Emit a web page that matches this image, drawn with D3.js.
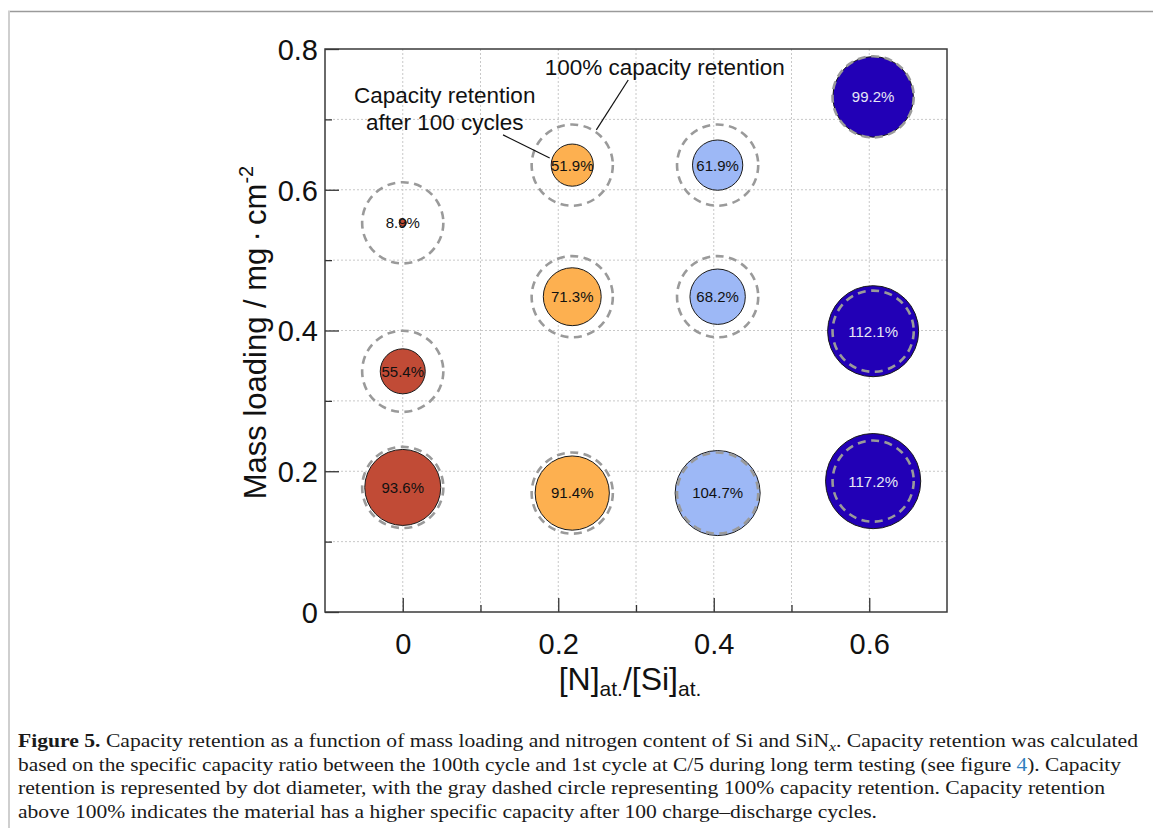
<!DOCTYPE html>
<html>
<head>
<meta charset="utf-8">
<script src="https://cdn.jsdelivr.net/npm/d3@7"></script>
<style>
  body { margin: 0; background: #fff; }
  svg { display: block; }
</style>
</head>
<body>
<div id="chart"></div>
<script>
const W = 1153, H = 828;
const margin = { left: 325, top: 49, right: 206, bottom: 216 };
const width = W - margin.left - margin.right;
const height = H - margin.top - margin.bottom;

// data
const nitrogen = [0, 0, 0, 0.218, 0.218, 0.218, 0.405, 0.405, 0.405, 0.605, 0.605, 0.605];
const loading = [0.553, 0.342, 0.177, 0.635, 0.448, 0.169, 0.635, 0.448, 0.169, 0.732, 0.399, 0.186];
const retention = [8.9, 55.4, 93.6, 51.9, 71.3, 91.4, 61.9, 68.2, 104.7, 99.2, 112.1, 117.2];
const groups = [0, 0.218, 0.405, 0.605];
const groupColors = ['#c14b36', '#fdb050', '#9db8f6', '#2200b6'];
const labelColors = ['#111', '#111', '#111', '#e6e6f5'];

const xMajor = [0, 0.2, 0.4, 0.6];
const xMinor = [0.1, 0.3, 0.5];
const yMajor = [0, 0.2, 0.4, 0.6, 0.8];
const yMinor = [0.1, 0.3, 0.5, 0.7];
const xGrid = [0, 0.1, 0.2, 0.3, 0.4, 0.5, 0.6];
const yGrid = [0.1, 0.2, 0.3, 0.4, 0.5, 0.6, 0.7];

const captionLines = [
  [{ t: 'Figure 5.', b: true }, { t: ' Capacity retention as a function of mass loading and nitrogen content of Si and SiN' }, { t: 'x', sub: true }, { t: '. Capacity retention was calculated' }],
  [{ t: 'based on the specific capacity ratio between the 100th cycle and 1st cycle at C/5 during long term testing (see figure ' }, { t: '4', link: true }, { t: '). Capacity' }],
  [{ t: 'retention is represented by dot diameter, with the gray dashed circle representing 100% capacity retention. Capacity retention' }],
  [{ t: 'above 100% indicates the material has a higher specific capacity after 100 charge\u2013discharge cycles.' }]
];
const captionWidths = [1120, 1103, 1087, 859];

const points = nitrogen.map((n, i) => ({ n, m: loading[i], r: retention[i] }));

const x = d3.scaleLinear().domain([-0.1, 0.7]).range([0, width]);
const y = d3.scaleLinear().domain([0, 0.8]).range([height, 0]);
const rad = d3.scaleLinear().domain([0, 100]).range([0, 40.6]);
const color = d3.scaleOrdinal().domain(groups).range(groupColors);
const labelColor = d3.scaleOrdinal().domain(groups).range(labelColors);

const root = d3.select('#chart').append('svg')
  .attr('width', W).attr('height', H);

// page frame
root.append('line').attr('x1', 8).attr('x2', W).attr('y1', 11.5).attr('y2', 11.5)
  .attr('stroke', '#9a9a9a').attr('stroke-width', 1.5);
root.append('line').attr('x1', 9).attr('x2', 9).attr('y1', 11).attr('y2', H)
  .attr('stroke', '#cfcfcf').attr('stroke-width', 2);

const svg = root.append('g')
  .attr('transform', `translate(${margin.left},${margin.top})`);

// grid
svg.append('g').selectAll('line').data(xGrid).join('line')
  .attr('x1', d => x(d)).attr('x2', d => x(d)).attr('y1', 0).attr('y2', height)
  .attr('stroke', '#c8c8c8').attr('stroke-dasharray', '2,2');
svg.append('g').selectAll('line').data(yGrid).join('line')
  .attr('y1', d => y(d)).attr('y2', d => y(d)).attr('x1', 0).attr('x2', width)
  .attr('stroke', '#c8c8c8').attr('stroke-dasharray', '2,2');

// axes (ticks inside)
const fontAxis = 'Liberation Sans, Arial, sans-serif';
const xAx = svg.append('g').attr('transform', `translate(0,${height})`)
  .call(d3.axisBottom(x).tickValues(xMajor).tickSize(-14).tickPadding(21).tickFormat(d3.format('~g')));
svg.append('g').attr('transform', `translate(0,${height})`)
  .call(d3.axisBottom(x).tickValues(xMinor).tickSize(-7).tickFormat(''));
const yAx = svg.append('g')
  .call(d3.axisLeft(y).tickValues(yMajor).tickSize(-14).tickPadding(7).tickFormat(d3.format('~g')));
svg.append('g')
  .call(d3.axisLeft(y).tickValues(yMinor).tickSize(-7).tickFormat(''));
svg.selectAll('.domain').remove();
svg.selectAll('.tick line').attr('stroke', '#333').attr('stroke-width', 1.3);
svg.selectAll('.tick text').attr('font-family', fontAxis).attr('font-size', 29).attr('fill', '#111');
xAx.selectAll('.tick text').attr('dy', '0.71em');
yAx.selectAll('.tick text').attr('dy', '0.36em');

svg.append('rect').attr('width', width).attr('height', height)
  .attr('fill', 'none').attr('stroke', '#3a3a3a').attr('stroke-width', 1.5);

// bubbles
svg.append('g').selectAll('circle').data(points).join('circle')
  .attr('cx', d => x(d.n)).attr('cy', d => y(d.m))
  .attr('r', d => rad(d.r))
  .attr('fill', d => color(d.n))
  .attr('stroke', '#1a1a1a').attr('stroke-width', 1);

// 100% retention reference
svg.append('g').selectAll('circle').data(points).join('circle')
  .attr('cx', d => x(d.n)).attr('cy', d => y(d.m))
  .attr('r', rad(100))
  .attr('fill', 'none')
  .attr('stroke', '#9a9a9a').attr('stroke-width', 2.6)
  .attr('stroke-dasharray', '8,5.5');

svg.append('g').selectAll('text').data(points).join('text')
  .attr('x', d => x(d.n)).attr('y', d => y(d.m))
  .attr('dy', '0.36em')
  .attr('text-anchor', 'middle')
  .attr('font-family', fontAxis).attr('font-size', 15)
  .attr('fill', d => labelColor(d.n))
  .text(d => d.r.toFixed(1) + '%');

// annotations
const note = svg.append('g').attr('font-family', fontAxis).attr('font-size', 22.5).attr('fill', '#111');
note.append('text').attr('x', x(0.337)).attr('y', y(0.763)).attr('text-anchor', 'middle')
  .text('100% capacity retention');
note.append('text').attr('x', x(0.054)).attr('y', y(0.723)).attr('text-anchor', 'middle')
  .text('Capacity retention');
note.append('text').attr('x', x(0.054)).attr('y', y(0.685)).attr('text-anchor', 'middle')
  .text('after 100 cycles');
note.append('line').attr('x1', x(0.290)).attr('y1', y(0.756)).attr('x2', x(0.249)).attr('y2', y(0.685))
  .attr('stroke', '#111').attr('stroke-width', 1.2);
note.append('line').attr('x1', x(0.129)).attr('y1', y(0.678)).attr('x2', x(0.189)).attr('y2', y(0.645))
  .attr('stroke', '#111').attr('stroke-width', 1.2);

// axis titles
const xt = svg.append('text').attr('x', width / 2 - 6).attr('y', height + 78)
  .attr('text-anchor', 'middle').attr('font-family', fontAxis).attr('font-size', 32).attr('fill', '#111');
xt.append('tspan').text('[N]');
xt.append('tspan').attr('font-size', 21).attr('dy', 6).text('at.');
xt.append('tspan').attr('dy', -6).text('/[Si]');
xt.append('tspan').attr('font-size', 21).attr('dy', 6).text('at.');

const yt = svg.append('text')
  .attr('transform', `translate(${-59},${height / 2 + 2}) rotate(-90)`)
  .attr('text-anchor', 'middle').attr('font-family', fontAxis).attr('font-size', 31).attr('fill', '#111');
yt.append('tspan').text('Mass loading / mg\u2009\u00b7\u2009cm');
yt.append('tspan').attr('font-size', 20).attr('dy', -13).text('-2');

// caption
const cap = root.append('g').attr('font-family', 'Liberation Serif, Times New Roman, serif')
  .attr('font-size', 18).attr('fill', '#1a1a1a');
captionLines.forEach((segs, i) => {
  const tx = cap.append('text').attr('x', 18).attr('y', 747 + i * 23.5)
    .attr('textLength', captionWidths[i]).attr('lengthAdjust', 'spacingAndGlyphs');
  segs.forEach(s => {
    const ts = tx.append('tspan').text(s.t);
    if (s.b) ts.attr('font-weight', 'bold');
    if (s.link) ts.attr('fill', '#2f7fc0');
    if (s.sub) ts.attr('font-style', 'italic').attr('font-size', 13).attr('dy', 4);
  });
  // undo subscript shift for the following segment
  tx.selectAll('tspan').filter((d, j, n) => j > 0 && segs[j - 1].sub).attr('dy', -4);
});
</script>
</body>
</html>
